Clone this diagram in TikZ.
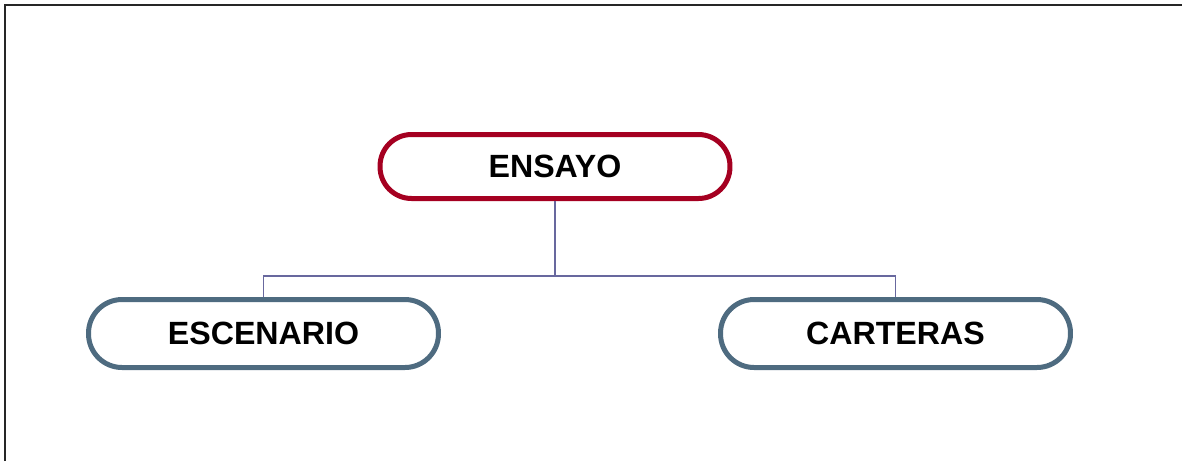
\documentclass[tikz,border=0pt]{standalone}
\usepackage{fontspec}
\setmainfont{Liberation Sans}
\definecolor{topred}{RGB}{165,0,33}
\definecolor{slate}{RGB}{78,107,128}
\definecolor{wire}{RGB}{104,104,158}

\begin{document}
\begin{tikzpicture}[x=0.02cm, y=-0.02cm,
  pill/.style={draw, fill=white, line width=0.1cm, minimum width=7cm,
    font=\fontsize{18.3}{21}\selectfont\bfseries},
  head/.style={pill, draw=topred, minimum height=1.28cm, rounded corners=0.63cm},
  leaf/.style={pill, draw=slate, minimum height=1.36cm, rounded corners=0.67cm},
  link/.style={draw=wire, line width=0.035cm}]
\useasboundingbox (0,0) rectangle (1182,461);

% outer frame, open at the bottom and right
\draw [line width=0.045cm, black!85] (5,461) -- (5,5) -- (1182,5);

\node (ensayo) at (555,166.5) [head]{ENSAYO};
\node (escenario) at (263.5,333.5) [leaf]{ESCENARIO};
\node (carteras) at (895.5,333.5) [leaf]{CARTERAS};

\coordinate (bus) at (555,276);

\path [link] (ensayo.south) -- (bus);
\path [link] (bus) -| (escenario.north);
\path [link] (bus) -| (carteras.north);

\end{tikzpicture}
\end{document}
